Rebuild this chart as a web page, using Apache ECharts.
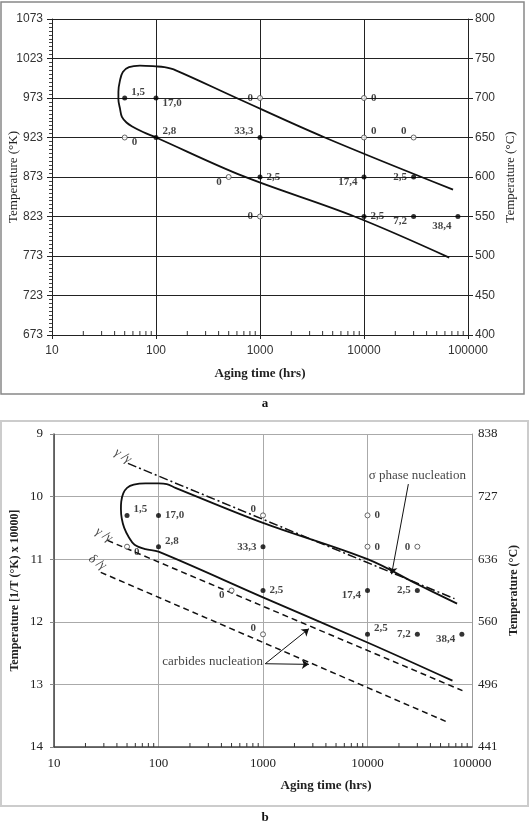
<!DOCTYPE html>
<html>
<head>
<meta charset="utf-8">
<script src="https://cdn.jsdelivr.net/npm/echarts@6/dist/echarts.min.js"></script>
<style>
html, body { margin: 0; padding: 0; background: #fff; }
#chart { width: 531px; height: 821px; }
</style>
</head>
<body>
<div id="chart"></div>
<script>
// log axis minor tick positions (hours)
var minorTicks = [20, 30, 40, 50, 60, 70, 80, 90,
    200, 300, 400, 500, 600, 700, 800, 900,
    2000, 3000, 4000, 5000, 6000, 7000, 8000, 9000,
    20000, 30000, 40000, 50000, 60000, 70000, 80000, 90000];

// ---- chart a : [hours, temperature °C] (left axis shows K = °C + 273)
var filledA = [[50, 700], [100, 700], [100, 650], [1000, 650], [1000, 600], [10000, 600], [30000, 600], [10000, 550], [30000, 550], [80000, 550]];
var filledTextA = ['1,5', '17,0', '2,8', '33,3', '2,5', '17,4', '2,5', '2,5', '7,2', '38,4'];
var openA = [[1000, 700], [10000, 700], [50, 650], [10000, 650], [30000, 650], [500, 600], [1000, 550]];
var curveA = [[71800, 584], [4200, 650], [595, 700], [155, 735], [120, 739], [100, 740], [70, 741], [55, 739],
    [48, 733], [45, 722], [43.5, 708], [43.5, 698], [45, 687], [47, 676], [52, 669], [59, 664], [75, 657],
    [100, 650], [690, 601], [8100, 550], [66000, 498]];

// ---- chart b : [hours, 1/T x 10000]
var filledB = [[50, 10.3], [100, 10.3], [100, 10.8], [1000, 10.8], [1000, 11.5], [10000, 11.5], [30000, 11.5], [10000, 12.2], [30000, 12.2], [80000, 12.2]];
var filledTextB = ['1,5', '17,0', '2,8', '33,3', '2,5', '17,4', '2,5', '2,5', '7,2', '38,4'];
var openB = [[1000, 10.3], [10000, 10.3], [50, 10.8], [10000, 10.8], [30000, 10.8], [500, 11.5], [1000, 12.2]];
var curveB = [[72000, 11.71], [30000, 11.4], [10000, 11.0], [1000, 10.42], [145, 9.86], [120, 9.8], [100, 9.79],
    [75, 9.79], [58, 9.81], [50, 9.86], [46, 9.95], [44, 10.08], [43.7, 10.2], [44.5, 10.35], [47, 10.5],
    [52, 10.65], [59, 10.77], [75, 10.84], [100, 10.88], [1000, 11.61], [10000, 12.33], [65000, 12.94]];
var gammaLineB = [[51, 9.47], [68000, 11.63]];
var gammaPrimeLineB = [[32.5, 10.7], [81000, 13.1]];
var deltaLineB = [[28, 11.21], [56000, 13.59]];
var noteTextB = ['γ /γ', 'γ /γ', 'δ /γ', 'σ phase nucleation', 'carbides nucleation'];
var noteAtB = [[45.6, 9.35], [30, 10.61], [26, 11.05], [30000, 9.67], [330, 12.64]];
var arrowsB = [[[24600, 9.8], [17000, 11.24]], [[1050, 12.67], [2750, 12.11]], [[1050, 12.67], [2750, 12.68]]];

// label placement (style only)
var filledPosA = ['ra', 'rb', 'ra', 'la', 'r', 'lb', 'l', 'r', 'lb', 'lb2'];
var openPosA = ['l', 'r', 'rb', 'ra', 'la', 'lb', 'l'];
var filledPosB = ['ra', 'r', 'ra', 'l', 'r', 'lb', 'l', 'ra', 'l', 'lb'];
var openPosB = ['la', 'r', 'rb', 'r', 'l', 'lb', 'la'];
var noteRotate = [-32, -32, -32, 0, 0];

var posMap = {
    r: ['right', [0, 0]], ra: ['right', [0, -6]], rb: ['right', [0, 5]],
    l: ['left', [0, 0]], la: ['left', [0, -6]], lb: ['left', [0, 5]], lb2: ['left', [0, 10]]
};
var serif = 'Liberation Serif';
var sans = 'Liberation Sans';

function ptLabel(code, text, size) {
    var m = posMap[code];
    return {
        show: true, formatter: text, position: m[0], offset: m[1], distance: 4,
        fontFamily: serif, fontWeight: 'bold', fontSize: size, color: '#111'
    };
}

function pointData(list, texts, pos, size) {
    return list.map(function (p, i) {
        return { value: p, label: ptLabel(pos[i], texts ? texts[i] : '0', size) };
    });
}

function minorTickSeries(xi, yi, base) {
    return {
        type: 'custom', xAxisIndex: xi, yAxisIndex: yi, silent: true, z: 5,
        data: minorTicks.map(function (v) { return [v, base]; }),
        renderItem: function (params, api) {
            var p = api.coord([api.value(0), api.value(1)]);
            return {
                type: 'line',
                shape: { x1: p[0], y1: p[1], x2: p[0], y2: p[1] - 4 },
                style: { stroke: '#333', lineWidth: 1 }
            };
        }
    };
}

var chart = echarts.init(document.getElementById('chart'));

var logFmt = function (v) { return String(Math.round(v)); };

var option = {
    backgroundColor: '#fff',
    animation: false,
    grid: [
        { left: 52, top: 19, width: 416, height: 316, containLabel: false, outerBoundsMode: 'none' },
        { left: 54, top: 434, width: 418, height: 313, containLabel: false, outerBoundsMode: 'none' }
    ],
    xAxis: [{
        type: 'log', logBase: 10, min: 10, max: 100000, gridIndex: 0,
        axisLine: { lineStyle: { color: '#222', width: 1 } },
        axisTick: { show: true, length: 4, lineStyle: { color: '#222' } },
        axisLabel: { formatter: logFmt, fontFamily: sans, fontSize: 12, color: '#333', margin: 10 },
        splitLine: { show: true, lineStyle: { color: '#222', width: 1 } },
        name: 'Aging time (hrs)', nameLocation: 'middle', nameGap: 32, nameMoveOverlap: false,
        nameTextStyle: { fontFamily: serif, fontWeight: 'bold', fontSize: 13, color: '#222' }
    }, {
        type: 'log', logBase: 10, min: 10, max: 100000, gridIndex: 1,
        axisLine: { lineStyle: { color: '#444', width: 1.5 } },
        axisTick: { show: false },
        axisLabel: { formatter: logFmt, fontFamily: serif, fontSize: 13, color: '#222', margin: 10 },
        splitLine: { show: true, lineStyle: { color: '#aaa', width: 1 } }
    }],
    yAxis: [{
        type: 'value', gridIndex: 0, min: 400, max: 800, interval: 50,
        axisLine: { show: true, lineStyle: { color: '#222' } },
        axisTick: { show: true, length: 5, lineStyle: { color: '#222' } },
        minorTick: { show: true, splitNumber: 10, length: 3, lineStyle: { color: '#444' } },
        axisLabel: {
            formatter: function (v) { return String(v + 273); },
            fontFamily: sans, fontSize: 12, color: '#333', margin: 9
        },
        splitLine: { show: true, lineStyle: { color: '#222', width: 1 } },
        name: 'Temperature (°K)', nameLocation: 'middle', nameGap: 32, nameMoveOverlap: false,
        nameTextStyle: { fontFamily: serif, fontSize: 13, color: '#222' }
    }, {
        type: 'value', gridIndex: 0, min: 400, max: 800, interval: 50, position: 'right',
        axisLine: { show: true, lineStyle: { color: '#222' } },
        axisTick: { show: true, length: 5, lineStyle: { color: '#222' } },
        axisLabel: { fontFamily: sans, fontSize: 12, color: '#333', margin: 7 },
        splitLine: { show: false },
        name: 'Temperature (°C)', nameLocation: 'middle', nameGap: 36, nameMoveOverlap: false,
        nameTextStyle: { fontFamily: serif, fontSize: 13, color: '#222' }
    }, {
        type: 'value', gridIndex: 1, min: 9, max: 14, interval: 1, inverse: true,
        axisLine: { show: true, lineStyle: { color: '#444', width: 1.5 } },
        axisTick: { show: true, length: 4, lineStyle: { color: '#888' } },
        axisLabel: { fontFamily: serif, fontSize: 13, color: '#222', margin: 11 },
        splitLine: { show: true, lineStyle: { color: '#aaa', width: 1 } },
        name: 'Temperature [1/T (°K) x 10000]', nameLocation: 'middle', nameGap: 33, nameMoveOverlap: false,
        nameTextStyle: { fontFamily: serif, fontWeight: 'bold', fontSize: 12, color: '#222' }
    }, {
        type: 'value', gridIndex: 1, min: 9, max: 14, interval: 1, inverse: true, position: 'right',
        axisLine: { show: true, lineStyle: { color: '#999', width: 1 } },
        axisTick: { show: false },
        axisLabel: {
            formatter: function (v) { return String(Math.round(10000 / v - 273)); },
            fontFamily: serif, fontSize: 13, color: '#222', margin: 6
        },
        splitLine: { show: false },
        name: 'Temperature (°C)', nameLocation: 'middle', nameGap: 36, nameMoveOverlap: false,
        nameTextStyle: { fontFamily: serif, fontWeight: 'bold', fontSize: 12, color: '#222' }
    }],
    graphic: [
        { type: 'rect', shape: { x: 1, y: 2, width: 523, height: 392 }, style: { fill: null, stroke: '#888', lineWidth: 1.5 }, silent: true },
        { type: 'rect', shape: { x: 1, y: 421, width: 527, height: 385 }, style: { fill: null, stroke: '#ccc', lineWidth: 2 }, silent: true },
        { type: 'text', x: 265, y: 404, style: { text: 'a', align: 'center', verticalAlign: 'middle', font: 'bold 13px "Liberation Serif"', fill: '#111' } },
        { type: 'text', x: 265, y: 818, style: { text: 'b', align: 'center', verticalAlign: 'middle', font: 'bold 13px "Liberation Serif"', fill: '#111' } },
        { type: 'text', x: 326, y: 786, style: { text: 'Aging time (hrs)', align: 'center', verticalAlign: 'middle', font: 'bold 13px "Liberation Serif"', fill: '#222' } }
    ],
    series: [
        minorTickSeries(0, 0, 400),
        minorTickSeries(1, 2, 14),
        {
            type: 'line', xAxisIndex: 0, yAxisIndex: 0, data: curveA, smooth: 0.35,
            showSymbol: false, lineStyle: { color: '#111', width: 1.8 }, z: 3
        },
        {
            type: 'scatter', xAxisIndex: 0, yAxisIndex: 0, symbolSize: 5, z: 6,
            itemStyle: { color: '#000' },
            data: pointData(filledA, filledTextA, filledPosA, 11)
        },
        {
            type: 'scatter', xAxisIndex: 0, yAxisIndex: 0, symbolSize: 5, z: 6,
            itemStyle: { color: '#fff', borderColor: '#444', borderWidth: 1 },
            data: pointData(openA, null, openPosA, 11)
        },
        {
            type: 'line', xAxisIndex: 1, yAxisIndex: 2, data: curveB, smooth: 0.35,
            showSymbol: false, lineStyle: { color: '#111', width: 1.8 }, z: 3
        },
        {
            type: 'line', xAxisIndex: 1, yAxisIndex: 2, data: gammaLineB,
            showSymbol: false, lineStyle: { color: '#111', width: 1.5, type: [9, 3, 2, 3] }, z: 3
        },
        {
            type: 'line', xAxisIndex: 1, yAxisIndex: 2, data: gammaPrimeLineB,
            showSymbol: false, lineStyle: { color: '#111', width: 1.5, type: [6, 4] }, z: 3
        },
        {
            type: 'line', xAxisIndex: 1, yAxisIndex: 2, data: deltaLineB,
            showSymbol: false, lineStyle: { color: '#111', width: 1.5, type: [6, 4] }, z: 3
        },
        {
            type: 'scatter', xAxisIndex: 1, yAxisIndex: 2, symbolSize: 5, z: 6,
            itemStyle: { color: '#000' },
            data: pointData(filledB, filledTextB, filledPosB, 11)
        },
        {
            type: 'scatter', xAxisIndex: 1, yAxisIndex: 2, symbolSize: 5, z: 6,
            itemStyle: { color: '#fff', borderColor: '#444', borderWidth: 1 },
            data: pointData(openB, null, openPosB, 11)
        },
        {
            type: 'scatter', xAxisIndex: 1, yAxisIndex: 2, symbolSize: 1, z: 7, silent: true,
            itemStyle: { color: 'rgba(0,0,0,0)' },
            data: noteAtB.map(function (p, i) {
                return {
                    value: p,
                    label: {
                        show: true, formatter: noteTextB[i], position: 'inside', rotate: noteRotate[i],
                        fontFamily: serif, fontSize: 13, color: '#111',
                        fontStyle: i < 3 ? 'italic' : 'normal'
                    }
                };
            }),
            markLine: {
                silent: true, symbol: ['none', 'arrow'], symbolSize: 7,
                label: { show: false },
                lineStyle: { color: '#111', width: 1, type: 'solid' },
                data: arrowsB.map(function (a) {
                    return [{ coord: a[0] }, { coord: a[1] }];
                })
            }
        }
    ]
};

chart.setOption(option);
</script>
</body>
</html>
